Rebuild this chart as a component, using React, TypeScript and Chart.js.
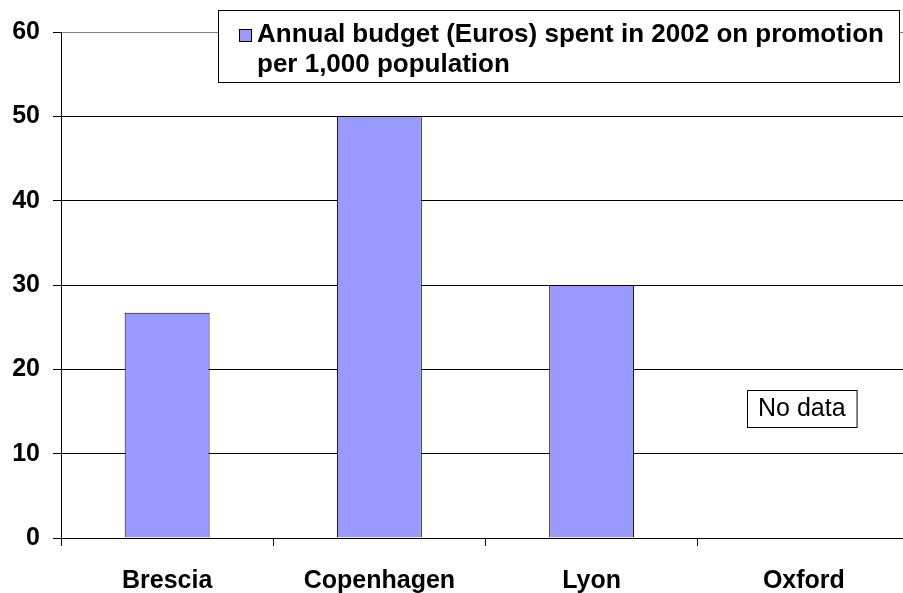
import React, { useEffect, useRef } from "react";
import { Chart, registerables } from "chart.js";

Chart.register(...registerables);

const categories = ["Brescia", "Copenhagen", "Lyon", "Oxford"];
const budgetValues: (number | null)[] = [26.7, 50, 30, null];
const seriesLabel = "Annual budget (Euros) spent in 2002 on promotion";
const seriesLabelLine2 = "per 1,000 population";
const yTicks = [0, 10, 20, 30, 40, 50, 60];
const noDataLabel = "No data";

const FONT = "Arial, 'Liberation Sans', sans-serif";

const overlayPlugin = {
  id: "overlay",
  afterDraw(chart: any) {
    const ctx = chart.ctx;
    const xScale = chart.scales.x;
    const yScale = chart.scales.y;
    ctx.save();
    // Legend box
    const lx = 218, ly = 10, lw = 681, lh = 72;
    ctx.fillStyle = "#ffffff";
    ctx.fillRect(lx, ly, lw, lh);
    ctx.strokeStyle = "#000000";
    ctx.lineWidth = 1;
    ctx.strokeRect(lx + 0.5, ly + 0.5, lw, lh);
    ctx.fillStyle = chart.data.datasets[0].backgroundColor;
    ctx.fillRect(239, 29, 12, 12);
    ctx.strokeRect(239.5, 29.5, 12, 12);
    ctx.fillStyle = "#000000";
    ctx.font = "bold 26px " + FONT;
    ctx.textBaseline = "alphabetic";
    ctx.textAlign = "left";
    ctx.fillText(chart.data.datasets[0].label, 257, 42);
    ctx.fillText(seriesLabelLine2, 257, 72);
    // No data box for Oxford
    const idx = categories.indexOf("Oxford");
    const cx = xScale.getPixelForValue(idx) - 2;
    const cy = yScale.getPixelForValue(15);
    ctx.font = "25px " + FONT;
    const tw = ctx.measureText(noDataLabel).width;
    const bw = tw + 22, bh = 37;
    const bx = Math.round(cx - bw / 2), by = Math.round(cy - bh / 2) - 3;
    ctx.fillStyle = "#ffffff";
    ctx.fillRect(bx, by, bw, bh);
    ctx.strokeRect(bx + 0.5, by + 0.5, bw, bh);
    ctx.fillStyle = "#000000";
    ctx.textAlign = "center";
    ctx.textBaseline = "middle";
    ctx.fillText(noDataLabel, bx + bw / 2, by + bh / 2 + 1);
    ctx.restore();
  },
};

export default function App() {
  const ref = useRef<HTMLCanvasElement>(null);
  useEffect(() => {
    if (!ref.current) return;
    const chart = new Chart(ref.current, {
      type: "bar",
      data: {
        labels: categories,
        datasets: [
          {
            label: seriesLabel,
            data: budgetValues,
            backgroundColor: "#9999ff",
            borderColor: "#000000",
            borderWidth: 1,
            barPercentage: 0.4,
            categoryPercentage: 1,
          },
        ],
      },
      options: {
        responsive: false,
        animation: false,
        devicePixelRatio: 1,
        layout: { padding: { top: 32, right: 2, left: 0, bottom: 0 } },
        plugins: { legend: { display: false }, tooltip: { enabled: false } },
        scales: {
          x: {
            offset: true,
            grid: {
              offset: true,
              drawOnChartArea: false,
              tickLength: 8,
              color: "#000000",
              tickColor: "#000000",
            },
            border: { color: "#000000", width: 1 },
            ticks: {
              color: "#000000",
              padding: 20,
              font: { family: FONT, size: 25, weight: "bold" },
            },
            afterFit(scale: any) {
              scale.height = 55;
            },
          },
          y: {
            min: 0,
            max: 60,
            afterBuildTicks(scale: any) {
              scale.ticks = yTicks.map((v) => ({ value: v }));
            },
            grid: {
              tickLength: 8,
              color: (c: any) => (c.tick && c.tick.value === 60 ? "#808080" : "#000000"),
              tickColor: "#000000",
            },
            border: { color: "#000000", width: 1 },
            ticks: {
              color: "#000000",
              padding: 13,
              font: { family: FONT, size: 25, weight: "bold" },
            },
            afterFit(scale: any) {
              scale.width = 61;
            },
          },
        },
      },
      plugins: [overlayPlugin],
    });
    return () => chart.destroy();
  }, []);
  return (
    <div style={{ position: "fixed", left: 0, top: 0, width: 912, height: 593, background: "#fff" }}>
      <canvas ref={ref} width={912} height={593} />
    </div>
  );
}
